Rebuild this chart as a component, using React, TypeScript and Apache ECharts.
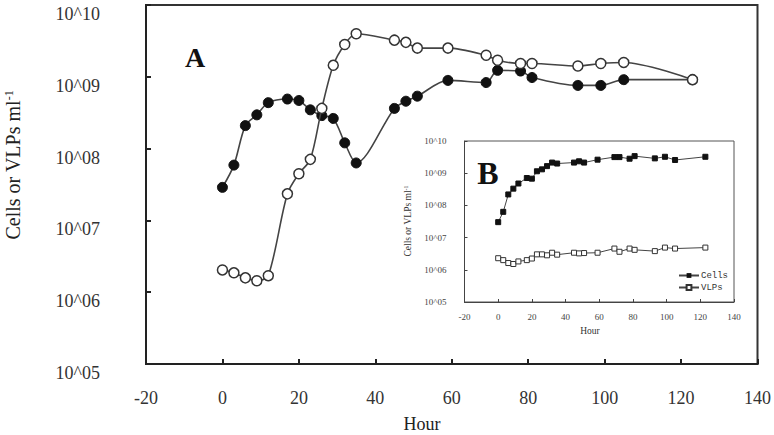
import React, { useEffect, useRef } from "react";
import * as echarts from "echarts";

const hours = [0, 3, 6, 9, 12, 17, 20, 23, 26, 29, 32, 35, 45, 48, 51, 59, 69, 72, 78, 81, 93, 99, 105, 123];
// main panel A (log10 values)
const cellsA = [7.46, 7.77, 8.32, 8.47, 8.64, 8.69, 8.67, 8.54, 8.46, 8.42, 8.08, 7.80, 8.56, 8.66, 8.73, 8.95, 8.92, 9.09, 9.08, 8.99, 8.88, 8.88, 8.96, 8.96];
const vlpsA = [6.31, 6.27, 6.2, 6.16, 6.23, 7.37, 7.65, 7.85, 8.56, 9.16, 9.45, 9.6, 9.51, 9.48, 9.4, 9.4, 9.3, 9.23, 9.185, 9.185, 9.15, 9.185, 9.2, 8.96];
// inset panel B (log10 values)
const cellsB = [7.48, 7.8, 8.34, 8.52, 8.68, 8.85, 8.83, 9.06, 9.12, 9.22, 9.33, 9.3, 9.33, 9.37, 9.33, 9.42, 9.5, 9.5, 9.45, 9.53, 9.46, 9.51, 9.41, 9.51];
const vlpsB = [6.36, 6.3, 6.21, 6.18, 6.26, 6.3, 6.35, 6.48, 6.48, 6.45, 6.53, 6.47, 6.53, 6.51, 6.52, 6.53, 6.66, 6.56, 6.66, 6.62, 6.58, 6.69, 6.66, 6.69];

const seriesNames = ["Cells", "VLPs"];
const xLabel = "Hour";
const yLabel = "Cells or VLPs ml";

const toPts = (vals: number[]) => hours.map((h, i) => [h, Math.pow(10, vals[i])]);
const fmtY = (v: number) => "10^" + String(Math.round(Math.log10(v))).padStart(2, "0");
const SERIF = "Liberation Serif";

export default function App() {
  const ref = useRef<HTMLDivElement>(null);
  useEffect(() => {
    const chart = echarts.init(ref.current!, null, { renderer: "svg" });
    const lineCol = "#444";
    chart.setOption({
      animation: false,
      backgroundColor: "#fff",
      grid: [
        { left: 146, top: 5, width: 613, height: 359, show: true, borderColor: "#333", borderWidth: 2 },
        { left: 464.5, top: 141, width: 269.5, height: 161, show: true, borderColor: "#555", borderWidth: 1 },
      ],
      xAxis: [
        {
          gridIndex: 0, type: "value", min: -20, max: 140, interval: 20,
          axisLine: { onZero: false, lineStyle: { color: "#222", width: 2 } },
          axisTick: { inside: true, length: 5, lineStyle: { color: "#222", width: 2 } },
          axisLabel: { margin: 25, color: "#333", fontFamily: SERIF, fontSize: 18 },
          splitLine: { show: false },
        },
        {
          gridIndex: 1, type: "value", min: -20, max: 140, interval: 20,
          axisLine: { onZero: false, lineStyle: { color: "#444", width: 1 } },
          axisTick: { inside: true, length: 3, lineStyle: { color: "#444" } },
          axisLabel: { margin: 10, color: "#444", fontFamily: SERIF, fontSize: 9 },
          splitLine: { show: false },
        },
      ],
      yAxis: [
        {
          gridIndex: 0, type: "log", logBase: 10, min: 1e5, max: 1e10,
          axisLine: { onZero: false, lineStyle: { color: "#222", width: 2 } },
          axisTick: { inside: true, length: 5, lineStyle: { color: "#222", width: 2 } },
          axisLabel: { margin: 46, color: "#333", fontFamily: SERIF, fontSize: 18, formatter: fmtY, verticalAlign: "top" },
          splitLine: { show: false },
        },
        {
          gridIndex: 1, type: "log", logBase: 10, min: 1e5, max: 1e10,
          axisLine: { onZero: false, lineStyle: { color: "#444", width: 1 } },
          axisTick: { inside: true, length: 3, lineStyle: { color: "#444" } },
          axisLabel: { margin: 18, color: "#444", fontFamily: SERIF, fontSize: 9, formatter: fmtY, padding: [4, 0, 0, 0] },
          splitLine: { show: false },
        },
      ],
      legend: {
        data: seriesNames,
        orient: "vertical",
        left: 673,
        top: 266,
        itemWidth: 20,
        itemHeight: 6,
        itemGap: 3,
        textStyle: { fontFamily: "Liberation Mono", fontSize: 9, color: "#333", padding: [0, 0, 0, -3] },
      },
      series: [
        {
          name: "Cells A", type: "line", xAxisIndex: 0, yAxisIndex: 0, data: toPts(cellsA), smooth: 0.3,
          symbol: "circle", symbolSize: 10, itemStyle: { color: "#111", borderColor: "#111" },
          lineStyle: { color: lineCol, width: 1.6 }, z: 3,
        },
        {
          name: "VLPs A", type: "line", xAxisIndex: 0, yAxisIndex: 0, data: toPts(vlpsA), smooth: 0.3,
          symbol: "circle", symbolSize: 10, itemStyle: { color: "#fff", borderColor: "#333", borderWidth: 1.5 },
          lineStyle: { color: lineCol, width: 1.6 }, z: 4,
        },
        {
          name: "Cells", type: "line", xAxisIndex: 1, yAxisIndex: 1, data: toPts(cellsB),
          symbol: "rect", symbolSize: 5, itemStyle: { color: "#111", borderColor: "#111" },
          lineStyle: { color: lineCol, width: 1 },
        },
        {
          name: "VLPs", type: "line", xAxisIndex: 1, yAxisIndex: 1, data: toPts(vlpsB),
          symbol: "rect", symbolSize: 5, itemStyle: { color: "#fff", borderColor: "#333", borderWidth: 1 },
          lineStyle: { color: lineCol, width: 1 },
        },
      ],
      graphic: [
        { type: "text", x: 195, y: 57, style: { text: "A", font: `bold 28px ${SERIF}`, fill: "#111", align: "center", verticalAlign: "middle" } },
        { type: "text", x: 488, y: 173, style: { text: "B", font: `bold 32px ${SERIF}`, fill: "#111", align: "center", verticalAlign: "middle" } },
        { type: "text", x: 422, y: 424, style: { text: xLabel, font: `18px ${SERIF}`, fill: "#222", align: "center", verticalAlign: "middle" } },
        { type: "text", x: 590, y: 331, style: { text: xLabel, font: `9.5px ${SERIF}`, fill: "#333", align: "center", verticalAlign: "middle" } },
        {
          type: "text", x: 13, y: 165, rotation: Math.PI / 2,
          style: {
            text: `{a|${yLabel}}{b|-1}`, align: "center", verticalAlign: "middle",
            rich: {
              a: { fontFamily: SERIF, fontSize: 20, fill: "#222", color: "#222" },
              b: { fontFamily: SERIF, fontSize: 12, fill: "#222", color: "#222", verticalAlign: "top" },
            },
          },
        },
        {
          type: "text", x: 408, y: 221, rotation: Math.PI / 2,
          style: {
            text: `{a|${yLabel}}{b|-1}`, align: "center", verticalAlign: "middle",
            rich: {
              a: { fontFamily: SERIF, fontSize: 9.5, fill: "#333", color: "#333" },
              b: { fontFamily: SERIF, fontSize: 6, fill: "#333", color: "#333", verticalAlign: "top" },
            },
          },
        },
      ],
    });
    return () => chart.dispose();
  }, []);
  return <div ref={ref} style={{ position: "fixed", left: 0, top: 0, width: 774, height: 435 }} />;
}
